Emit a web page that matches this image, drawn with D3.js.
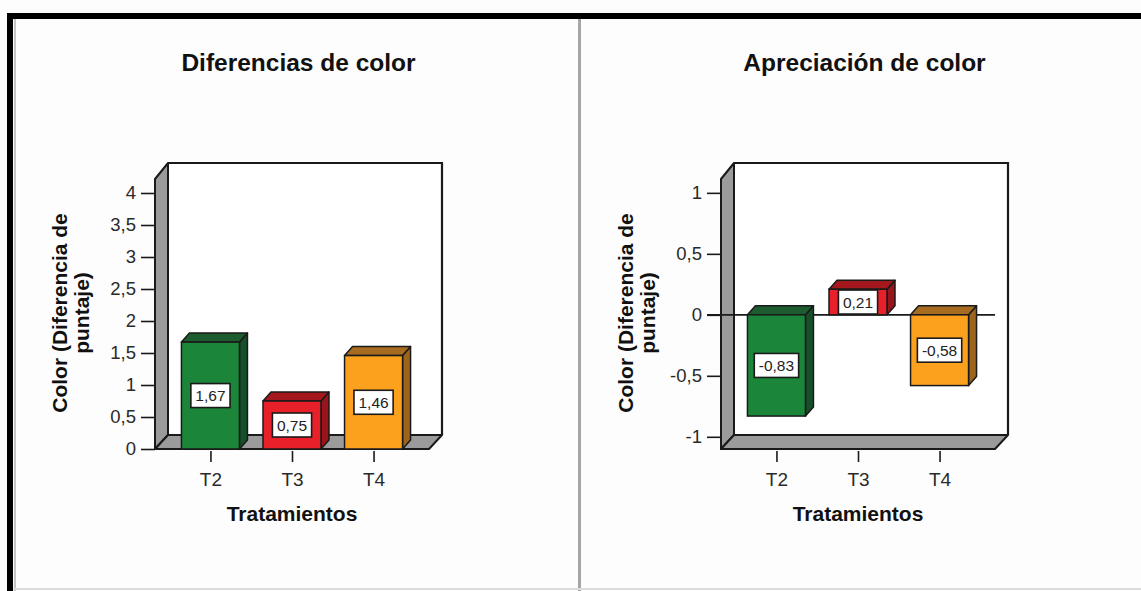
<!DOCTYPE html>
<html>
<head>
<meta charset="utf-8">
<script src="https://cdn.jsdelivr.net/npm/d3@7"></script>
<style>
  html, body { margin: 0; padding: 0; background: #ffffff; }
  svg { display: block; font-family: "Liberation Sans", Arial, Helvetica, sans-serif; }
</style>
</head>
<body>
<svg id="chart" width="1141" height="591"></svg>
<script>
// Treatments and mean scores per panel
const categories = ["T2", "T3", "T4"];
const diferenciasColor = [1.67, 0.75, 1.46];
const apreciacionColor = [-0.83, 0.21, -0.58];

// Tick values on each value axis
const ticksDiferencias = [0, 0.5, 1, 1.5, 2, 2.5, 3, 3.5, 4];
const ticksApreciacion = [-1, -0.5, 0, 0.5, 1];

// Face colours of the 3D bars: front, top, side
const frontColors = ["#1b8639", "#e8202a", "#fba11e"];
const topColors = ["#1c5c2e", "#a3171d", "#a86c20"];
const sideColors = ["#15502a", "#9a141b", "#9c641c"];

const ink = "#1a1a1a";
const wallGrey = "#9b9b9b";

// Spanish number format: decimal comma, plain hyphen for negatives
const es = d3.formatLocale({ decimal: ",", thousands: ".", grouping: [3], currency: ["", " €"], minus: "-" });
const tickFmt = es.format("~g");
const valueFmt = es.format(".2f");

const svg = d3.select("#chart");

// Page frame
svg.append("rect").attr("x", 0).attr("y", 0).attr("width", 1141).attr("height", 591).attr("fill", "#fdfdfd");
svg.append("rect").attr("x", 7).attr("y", 13).attr("width", 1134).attr("height", 6).attr("fill", "#000");
svg.append("rect").attr("x", 7).attr("y", 13).attr("width", 6).attr("height", 578).attr("fill", "#000");
svg.append("rect").attr("x", 14).attr("y", 19).attr("width", 2).attr("height", 572).attr("fill", "#c4c4c4");
svg.append("rect").attr("x", 578).attr("y", 19).attr("width", 3).attr("height", 572).attr("fill", "#a6a6a6");
svg.append("rect").attr("x", 13).attr("y", 588).attr("width", 1128).attr("height", 2).attr("fill", "#dcdcdc");

function drawPanel(cfg) {
  const g = svg.append("g");
  const x0 = cfg.x0;            // front edge of the value axis
  const plotW = 274;            // width of the front floor edge
  const yBottom = 449, yTop = 177;
  const depthX = 13, depthY = 14;   // wall depth
  const barDX = 8, barDY = 9;       // bar depth
  const barW = 58;

  const y = d3.scaleLinear().domain(cfg.domain).range([yBottom, yTop]);
  const x = d3.scalePoint().domain(categories).range([x0, x0 + plotW]).padding(0.68);

  // Back wall outline (top and right edges)
  g.append("rect")
    .attr("x", x0 + depthX).attr("y", yTop - depthY)
    .attr("width", plotW).attr("height", yBottom - yTop)
    .attr("fill", "#ffffff");
  g.append("path")
    .attr("d", d3.line()([[x0 + depthX, yTop - depthY], [x0 + depthX + plotW, yTop - depthY], [x0 + depthX + plotW, yBottom - depthY]]))
    .attr("fill", "none").attr("stroke", ink).attr("stroke-width", 2.2);

  // Side wall
  g.append("path")
    .attr("d", d3.line()([[x0, yBottom], [x0, yTop + 2], [x0 + depthX, yTop - depthY], [x0 + depthX, yBottom - depthY]]) + "Z")
    .attr("fill", wallGrey).attr("stroke", ink).attr("stroke-width", 2).attr("stroke-linejoin", "round");

  // Floor
  g.append("path")
    .attr("d", d3.line()([[x0, yBottom], [x0 + depthX, yBottom - depthY], [x0 + depthX + plotW, yBottom - depthY], [x0 + plotW, yBottom]]) + "Z")
    .attr("fill", wallGrey).attr("stroke", ink).attr("stroke-width", 2).attr("stroke-linejoin", "round");

  // Value axis
  const yAxis = g.append("g")
    .attr("transform", `translate(${x0},0)`)
    .call(d3.axisLeft(y).tickValues(cfg.ticks).tickSize(14).tickPadding(5).tickFormat(tickFmt));
  yAxis.select(".domain").remove();
  yAxis.selectAll(".tick line").attr("stroke", ink).attr("stroke-width", 1.6);
  yAxis.selectAll(".tick text").attr("fill", "#2a2a2a").attr("font-size", 18.5).attr("font-family", null);

  // Zero reference line across the plot
  if (cfg.zeroLine) {
    g.append("line")
      .attr("x1", x0 - 14).attr("x2", x0 + plotW)
      .attr("y1", y(0)).attr("y2", y(0))
      .attr("stroke", ink).attr("stroke-width", 1.6);
  }

  // 3D bars
  const bars = g.selectAll(".bar").data(cfg.values).join("g").attr("class", "bar");
  bars.each(function (v, i) {
    const b = d3.select(this);
    const cx = x(categories[i]);
    const left = cx - barW / 2, right = cx + barW / 2;
    const yt = Math.min(y(v), y(0)), yb = Math.max(y(v), y(0));
    // side face
    b.append("path")
      .attr("d", d3.line()([[right, yb], [right, yt], [right + barDX, yt - barDY], [right + barDX, yb - barDY]]) + "Z")
      .attr("fill", sideColors[i]).attr("stroke", ink).attr("stroke-width", 1.5).attr("stroke-linejoin", "round");
    // top face
    b.append("path")
      .attr("d", d3.line()([[left, yt], [left + barDX, yt - barDY], [right + barDX, yt - barDY], [right, yt]]) + "Z")
      .attr("fill", topColors[i]).attr("stroke", ink).attr("stroke-width", 1.5).attr("stroke-linejoin", "round");
    // front face
    b.append("rect")
      .attr("x", left).attr("y", yt).attr("width", barW).attr("height", yb - yt)
      .attr("fill", frontColors[i]).attr("stroke", ink).attr("stroke-width", 1.5);

    // value label in a white box on the front face
    const label = valueFmt(v);
    const ym = (yt + yb) / 2;
    const txt = b.append("text")
      .attr("x", cx).attr("y", ym).attr("dy", "0.36em")
      .attr("text-anchor", "middle").attr("font-size", 15.5).attr("fill", "#222")
      .text(label);
    const bw = txt.node().getComputedTextLength() + 9;
    b.insert("rect", "text")
      .attr("x", cx - bw / 2).attr("y", ym - 12).attr("width", bw).attr("height", 24)
      .attr("fill", "#ffffff").attr("stroke", ink).attr("stroke-width", 1.6);
  });

  // Category axis below the floor
  const xAxis = g.append("g")
    .attr("transform", `translate(0,${yBottom + 2})`)
    .call(d3.axisBottom(x).tickSize(11).tickPadding(11));
  xAxis.select(".domain").remove();
  xAxis.selectAll(".tick line").attr("stroke", ink).attr("stroke-width", 1.6);
  xAxis.selectAll(".tick text").attr("fill", "#2a2a2a").attr("font-size", 19).attr("font-family", null);

  // Titles
  g.append("text")
    .attr("x", x0 + (plotW + depthX) / 2).attr("y", 71)
    .attr("text-anchor", "middle").attr("font-size", 24.5).attr("font-weight", "bold").attr("fill", "#111")
    .text(cfg.title);

  g.append("text")
    .attr("x", x0 + plotW / 2).attr("y", 521)
    .attr("text-anchor", "middle").attr("font-size", 21).attr("font-weight", "bold").attr("fill", "#111")
    .text("Tratamientos");

  const yMid = (yTop + yBottom) / 2;
  const yt1 = g.append("text")
    .attr("transform", `translate(${x0 - 88},${yMid}) rotate(-90)`)
    .attr("text-anchor", "middle").attr("font-size", 21).attr("font-weight", "bold").attr("fill", "#111");
  yt1.append("tspan").attr("x", 0).attr("dy", 0).text("Color (Diferencia de");
  yt1.append("tspan").attr("x", 0).attr("dy", 22).text("puntaje)");
}

drawPanel({ x0: 155, domain: [0, 4.25], ticks: ticksDiferencias, values: diferenciasColor, title: "Diferencias de color", zeroLine: false });
drawPanel({ x0: 721, domain: [-1.1, 1.13], ticks: ticksApreciacion, values: apreciacionColor, title: "Apreciación de color", zeroLine: true });
</script>
</body>
</html>
